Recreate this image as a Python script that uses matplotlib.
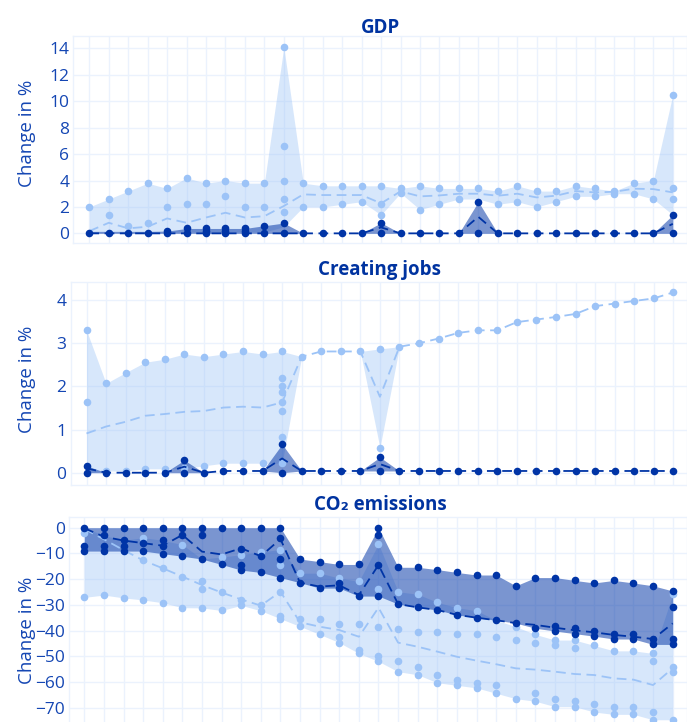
import matplotlib
matplotlib.use('Agg')
import matplotlib.pyplot as plt
import numpy as np

plt.rcParams['font.family'] = ['Open Sans', 'DejaVu Sans']
plt.rcParams['lines.scale_dashes'] = False

years = np.arange(31)

# ---------------- GDP ----------------
gdp_light_pts = [[2.0], [2.6, 1.4], [3.2, 0.55], [3.8, 0.8], [3.4, 2.0], [4.2, 2.2],
                 [3.8, 2.2], [4.0, 2.8], [3.8, 2.0], [3.8, 2.0], [14.1, 6.6, 4.0, 2.6, 1.6],
                 [3.8, 2.0], [3.6, 2.0], [3.6, 2.2], [3.6, 2.4], [3.6, 2.2, 1.4], [3.4, 3.05],
                 [3.6, 1.8], [3.4, 2.2], [3.4, 2.6], [3.4], [3.2, 2.2], [3.6, 2.4], [3.2, 2.0],
                 [3.2, 2.4], [3.6, 2.8], [3.4, 2.8], [3.2, 3.0], [3.8, 3.0], [4.0, 2.6],
                 [10.5, 3.4, 2.6]]
gdp_light_lo = [0.1] * 10 + [0.5, 2.0, 2.0, 2.2, 2.4, 1.4, 3.05, 1.8, 2.2, 2.6, 2.6,
                             2.2, 2.4, 2.0, 2.4, 2.8, 2.8, 3.0, 3.0, 2.6, 1.4]
gdp_light_mid = [0.17, 0.8, 0.38, 0.5, 1.13, 0.8, 1.2, 1.56, 1.2, 1.3, 2.07, 2.95, 2.9, 2.9,
                 2.9, 2.27, 3.18, 2.8, 2.87, 3.0, 3.0, 2.85, 3.0, 2.72, 2.85, 3.2, 3.1, 3.15,
                 3.38, 3.35, 3.1]
gdp_dark_pts = [[0], [0], [0], [0], [0.17, 0], [0.37, 0], [0.37, 0.17, 0], [0.37, 0.17, 0],
                [0.37, 0.17, 0], [0.58, 0], [0.78, 0], [0], [0], [0], [0], [0.8, 0], [0], [0],
                [0], [0], [2.4, 0], [0], [0], [0], [0], [0], [0], [0], [0], [0], [1.4, 0]]
gdp_dark_hi = [0.15, 0.15, 0.15, 0.15, 0.17, 0.37, 0.37, 0.37, 0.37, 0.58, 0.78, 0, 0, 0, 0,
               0.8, 0, 0, 0, 0, 2.4, 0, 0, 0, 0, 0, 0, 0, 0, 0, 1.4]
gdp_dark_mid = [0] * 15 + [0.45] + [0] * 4 + [1.25] + [0] * 9 + [0.72]

# ---------------- Creating jobs ----------------
jobs_light_pts = [[3.3, 1.63], [2.07, 0.04], [2.32, 0.04], [2.56, 0.09], [2.63, 0.09],
                  [2.75, 0.1], [2.69, 0.16], [2.75, 0.22], [2.81, 0.22], [2.75, 0.22],
                  [2.81, 2.19, 2.01, 1.88, 1.63, 1.44, 0.82, 0.22], [2.69], [2.81], [2.81],
                  [2.81], [2.87, 0.58], [2.92], [3.0], [3.11], [3.24], [3.30], [3.30], [3.49],
                  [3.55], [3.61], [3.68], [3.86], [3.92], [3.98], [4.04], [4.18]]
jobs_light_mid = [0.91, 1.07, 1.18, 1.32, 1.36, 1.41, 1.43, 1.51, 1.53, 1.51, 1.63, 2.69, 2.81,
                  2.81, 2.81, 1.76, 2.92, 3.0, 3.11, 3.24, 3.30, 3.30, 3.49, 3.55, 3.61, 3.68,
                  3.86, 3.92, 3.98, 4.04, 4.18]
jobs_dark_pts = [[0.16, 0], [0], [0], [0], [0], [0.29, 0], [0], [0.04], [0.04], [0.04],
                 [0.66, 0], [0.04], [0.04], [0.04], [0.04], [0.36, 0.04]] + [[0.04]] * 15
jobs_dark_mid = [0.1, 0, 0, 0, 0, 0.14, 0, 0.04, 0.04, 0.04, 0.33, 0.04, 0.04, 0.04, 0.04,
                 0.2] + [0.04] * 15

# ---------------- CO2 emissions ----------------
co2_light_pts = [[-2.2, -27.1], [-26.2], [-27.3], [-3.9, -12.7, -28.1], [-15.8, -29.2],
                 [-6.6, -19.0, -31.1], [-20.8, -24.0, -31.2], [-11.4, -25.2, -32.2],
                 [-10.5, -28.1, -30.2], [-9.4, -30.2, -32.3], [-8.5, -14.7, -25.0, -34.4, -35.4],
                 [-17.7, -35.5, -38.4], [-17.7, -35.4, -41.5], [-19.6, -37.4, -42.6, -44.7],
                 [-20.9, -37.4, -47.6, -48.9], [-6.3, -23.8, -38.5, -49.9, -52.0],
                 [-24.9, -39.5, -51.8, -56.0], [-25.9, -40.4, -54.0, -57.2],
                 [-29.0, -40.4, -57.2, -60.3], [-31.1, -41.5, -59.2, -61.3],
                 [-32.3, -41.5, -60.3, -62.3], [-42.5, -61.3, -64.4], [-38.5, -43.7, -66.5],
                 [-41.5, -44.7, -64.4, -67.5], [-43.7, -45.8, -66.5, -69.6],
                 [-43.7, -46.9, -67.5, -69.6], [-45.8, -68.5, -71.7], [-47.9, -69.6, -72.6],
                 [-47.9, -69.6, -72.6], [-48.9, -52.0, -71.7, -74.7],
                 [-25.9, -54.0, -56.1, -74.7]]
co2_light_hi = [0, -3.0, -4.9, -3.9, -4.9, -6.6, -12.2, -11.4, -10.5, -9.4, -8.5, -17.7, -17.7,
                -19.6, -20.9, -6.3, -24.9, -25.9, -29.0, -31.1, -32.3, -36.0, -38.5, -41.5,
                -43.7, -43.7, -45.8, -47.9, -47.9, -48.9, -25.9]
co2_light_mid = [-0.5, -4.5, -8.7, -12.7, -15.8, -19.0, -22.3, -25.2, -27.9, -30.3, -24.9,
                 -36.8, -38.5, -39.8, -42.4, -31.1, -44.7, -46.3, -48.2, -50.2, -51.7, -53.1,
                 -54.7, -55.2, -56.0, -56.9, -57.3, -58.6, -59.1, -61.2, -54.7]
co2_dark_pts = [[0, -7.0, -9.1], [0, -3.0, -7.0, -9.1], [0, -4.9, -7.0, -9.1], [0, -6.0, -9.1],
                [0, -4.9, -7.0, -10.1], [0, -2.9, -11.1], [0, -2.8, -12.2], [0, -14.3],
                [0, -8.2, -14.5, -16.5], [0, -11.1, -17.4], [0, -3.9, -12.2, -19.4],
                [-12.2, -21.4], [-13.2, -23.5], [-14.3, -21.4, -23.5], [-14.3, -26.6],
                [0, -2.8, -14.5, -26.6], [-15.4, -29.7], [-15.4, -31.0], [-16.3, -32.0],
                [-17.4, -33.9], [-18.4, -35.0], [-18.4, -36.0], [-22.6, -37.1], [-19.4, -39.1],
                [-19.4, -38.1, -40.2], [-20.5, -39.1, -41.2], [-21.5, -40.2, -42.2],
                [-20.5, -41.2, -43.3], [-21.5, -41.2, -43.3], [-22.6, -43.3, -45.4],
                [-24.6, -30.8, -43.3, -45.4]]
co2_dark_mid = [-0.2, -3.5, -5.0, -6.0, -7.0, -2.8, -9.3, -10.4, -8.0, -11.1, -4.4, -21.4, -22.9,
                -22.4, -26.2, -14.5, -29.7, -31.0, -32.0, -33.9, -35.0, -36.0, -37.1, -37.8,
                -38.9, -39.9, -40.7, -41.7, -42.4, -43.3, -37.2]

# ---------------- styling ----------------
LIGHT = '#9cc3f7'
DARK = '#0034a6'
GRID = '#ebf2fd'
TICK = '#1446b3'
TITLE = '#0033a0'

W, H = 687, 722
fig = plt.figure(figsize=(W / 100, H / 100), dpi=100)


def axes_px(left, top, bottom):
    return fig.add_axes([left / W, 1 - bottom / H, (W - left) / W, (bottom - top) / H])


def flat(pts):
    xs = [x for x, p in zip(years, pts) for _ in p]
    ys = [v for p in pts for v in p]
    return xs, ys


def panel(ax, lpts, llo, lhi, lmid, dpts, dlo, dhi, dmid):
    ax.fill_between(years, llo, lhi, color=LIGHT, alpha=0.4, lw=0, zorder=1)
    ax.fill_between(years, dlo, dhi, color=DARK, alpha=0.52, lw=0, zorder=2)
    ax.plot(years, lmid, color=LIGHT, lw=1.3, dashes=(7, 4), zorder=3)
    x, y = flat(lpts)
    ax.scatter(x, y, s=30, color=LIGHT, lw=0, zorder=4)
    ax.plot(years, dmid, color=DARK, lw=1.3, dashes=(7, 4), zorder=5)
    x, y = flat(dpts)
    ax.scatter(x, y, s=30, color=DARK, lw=0, zorder=6)
    ax.set_xticks(years)
    ax.tick_params(axis='x', length=0, labelbottom=False)
    ax.tick_params(axis='y', length=0, pad=3, labelsize=12.5, labelcolor=TICK)
    ax.grid(True, color=GRID, lw=1.0)
    ax.set_axisbelow(True)
    for s in ax.spines.values():
        s.set_color(GRID)
        s.set_linewidth(1.0)


# GDP
ax1 = axes_px(73.3, 36, 243)
panel(ax1, gdp_light_pts, gdp_light_lo, [max(p) for p in gdp_light_pts], gdp_light_mid,
      gdp_dark_pts, np.zeros(31), gdp_dark_hi, gdp_dark_mid)
ax1.set_xlim(-0.823, 30.73)
ax1.set_ylim(-0.73, 14.94)
ax1.set_yticks(range(0, 15, 2))

# Creating jobs
jobs_light_lo = [min(p) for p in jobs_light_pts]
jobs_light_lo[0] = 0.0
ax2 = axes_px(70.7, 282, 485)
panel(ax2, jobs_light_pts, jobs_light_lo, [max(p) for p in jobs_light_pts], jobs_light_mid,
      jobs_dark_pts, [min(p) for p in jobs_dark_pts], [max(p) for p in jobs_dark_pts],
      jobs_dark_mid)
ax2.set_xlim(-0.808, 30.70)
ax2.set_ylim(-0.285, 4.42)
ax2.set_yticks(range(0, 5))

# CO2
ax3 = axes_px(69.3, 517, 722)
panel(ax3, co2_light_pts, [min(p) for p in co2_light_pts], co2_light_hi, co2_light_mid,
      co2_dark_pts, [min(p) for p in co2_dark_pts], [max(p) for p in co2_dark_pts],
      co2_dark_mid)
ax3.set_xlim(-0.765, 30.73)
ax3.set_ylim(-75.57, 4.16)
ax3.set_yticks(range(-70, 1, 10))
ax3.spines['bottom'].set_visible(False)

# titles and axis labels
for txt, base in [('GDP', 33.3), ('Creating jobs', 275), ('CO₂ emissions', 510)]:
    fig.text(380 / W, 1 - base / H, txt, ha='center', va='baseline', fontsize=13.5,
             fontweight='bold', color=TITLE)
for yc in [133, 379, 630]:
    fig.text(27 / W, 1 - yc / H, 'Change in %', rotation=90, ha='center', va='center',
             fontsize=13.5, color=TICK)

fig.savefig('out.png', dpi=100)
